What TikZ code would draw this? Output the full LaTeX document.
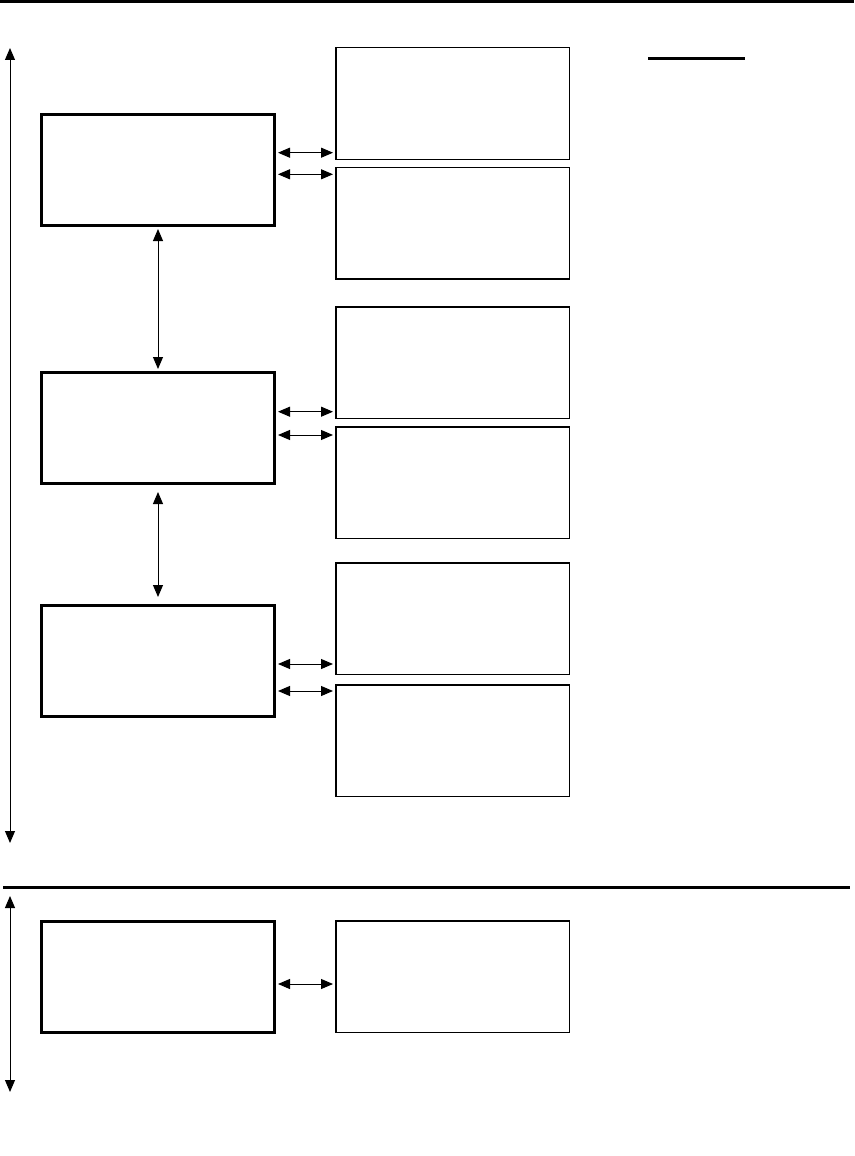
\documentclass[tikz,border=0pt]{standalone}
\usetikzlibrary{arrows.meta}

\begin{document}
\begin{tikzpicture}[x=1pt,y=-1pt,>={Triangle[length=12pt,width=10pt]}]
	\tikzstyle{layerbox}=[draw,line width=3pt,minimum width=233pt,minimum height=111pt,inner sep=0pt]
	\tikzstyle{partbox}=[draw,line width=1.5pt,minimum width=233.5pt,minimum height=111.5pt,inner sep=0pt]
	\tikzstyle{link}=[<->,line width=1pt,shorten >=2pt,shorten <=2pt]
	\useasboundingbox (0,0) rectangle (854,1156);
	
	\foreach \name/\y in {L1/170, L2/428, L3/661, L4/976.5}
	\node[layerbox] (\name) at (158,\y) {};
	
	\foreach \name/\y in {R1/103.5, R2/223, R3/362.5, R4/482.5, R5/618.5, R6/740.5, R7/976.5}
	\node[partbox] (\name) at (452.5,\y) {};
	

	
	\foreach \from/\to/\dy in {L1/R1/17.3, L1/R2/-4.3, L2/R3/16.3, L2/R4/-7, L3/R5/-3, L3/R6/-30, L4/R7/-7.5}
	\draw[link] ([yshift=\dy pt]\from.east) -- ([yshift=\dy pt]\from.east -| \to.west);
	

	\draw[link] (L1.south) -- (L2.north);
	\draw[link,shorten >=7pt,shorten <=7pt] (L2.south) -- (L3.north);
	
	\coordinate (top-a) at (10,48);
	\coordinate (top-b) at (10,843);
	\coordinate (low-a) at (10,896);
	\coordinate (low-b) at (10,1092);
	\draw[<->,line width=1pt] (top-a) -- (top-b);
	\draw[<->,line width=1pt] (low-a) -- (low-b);
	

	\draw[line width=3pt] (0,1.5) -- (854,1.5);
	\draw[line width=3pt] (3,887) -- (850,887);
	\draw[line width=3pt] (648,59) -- (745,59);
	
	\end{tikzpicture}
\end{document}
